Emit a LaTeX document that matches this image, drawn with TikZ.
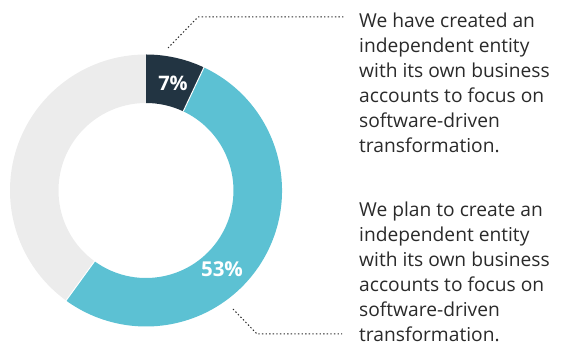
\documentclass[tikz,border=0pt]{standalone}
\usepackage{fontspec}
\setmainfont{Open Sans}
\usetikzlibrary{calc}
\definecolor{segdark}{HTML}{223442}
\definecolor{segteal}{HTML}{5CC1D3}
\definecolor{seggray}{HTML}{ECECEC}
\definecolor{txtgray}{HTML}{2A2A2A}
\begin{document}
\begin{tikzpicture}[x=1pt,y=1pt]
\tikzstyle{seg} = [draw=white, line width=1pt] % ring segment border
\tikzstyle{pct} = [text=white, font=\fontsize{20}{20}\selectfont\bfseries, inner sep=0pt] % percent label
\tikzstyle{note} = [text=txtgray, anchor=north west, inner sep=0pt, align=left, font=\fontsize{19.2}{25}\selectfont] % side text
\tikzstyle{leader} = [draw=txtgray, line width=1pt, dash pattern=on 1.4pt off 2.2pt] % dotted leader line
\useasboundingbox (0,0) rectangle (562,347);
\def\ro{136}\def\ri{87.5} % outer and inner radius
\begin{scope}[shift={(146,156.5)}]
  \fill[seggray] (90:\ro) arc (90:234:\ro) -- (234:\ri) arc (234:90:\ri) -- cycle; % rest
  \fill[segteal] (64.8:\ro) arc (64.8:-126:\ro) -- (-126:\ri) arc (-126:64.8:\ri) -- cycle; % 53%
  \fill[segdark] (90:\ro) arc (90:64.8:\ro) -- (64.8:\ri) arc (64.8:90:\ri) -- cycle; % 7%
  \draw[seg] (64.8:\ri) -- (64.8:\ro+1);
  \draw[seg] (-126:\ri) -- (-126:\ro+1);
\end{scope}
\node[pct] (p7) at (173,264) {7\%};
\node[pct, font=\fontsize{20.5}{20.5}\selectfont\fontseries{sb}\selectfont] (p53) at (222,78) {53\%};
\node[note] (created) at (359,334) {We have created an\\ independent entity\\ with its own business\\ accounts to focus on\\ software-driven\\ transformation.};
\node[note] (plan) at (359,145) {We plan to create an\\ independent entity\\ with its own business\\ accounts to focus on\\ software-driven\\ transformation.};
\coordinate (a7) at (168,299);
\coordinate (b7) at (198,330);
\coordinate (c7) at ($(created.north west)+(-14,-4)$);
\coordinate (a53) at (233,38);
\coordinate (b53) at (257,13);
\coordinate (c53) at (342,13);
\draw[leader] (a7) -- (b7) -- (b7 -| c7);
\draw[leader] (a53) -- (b53) -- (c53);
\end{tikzpicture}
\end{document}
